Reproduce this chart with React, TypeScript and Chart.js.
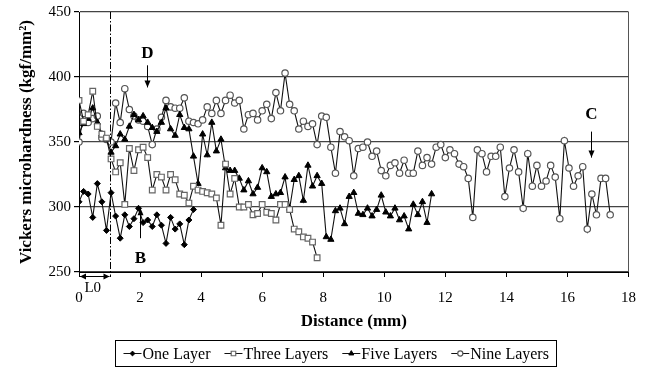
import React, { useEffect, useRef } from 'react';
import { Chart, registerables } from 'chart.js';
import { drawPoint } from 'chart.js/helpers';

Chart.register(...registerables);

const FONT = "'Liberation Serif', 'Times New Roman', serif";

// Distance positions (mm) of the measurement points
const distance = [
  0, 0.15, 0.3, 0.45, 0.6, 0.75, 0.9, 1.05, 1.2, 1.35, 1.5, 1.65, 1.8, 1.95, 2.1, 2.25, 2.4, 2.55, 2.7, 2.85,
  3, 3.15, 3.3, 3.45, 3.6, 3.75, 3.9, 4.05, 4.2, 4.35, 4.5, 4.65, 4.8, 4.95, 5.1, 5.25, 5.4, 5.55, 5.7, 5.85,
  6, 6.15, 6.3, 6.45, 6.6, 6.75, 6.9, 7.05, 7.2, 7.35, 7.5, 7.65, 7.8, 7.95, 8.1, 8.25, 8.4, 8.55, 8.7, 8.85,
  9, 9.15, 9.3, 9.45, 9.6, 9.75, 9.9, 10.05, 10.2, 10.35, 10.5, 10.65, 10.8, 10.95, 11.1, 11.25, 11.4, 11.55, 11.7, 11.85,
  12, 12.15, 12.3, 12.45, 12.6, 12.75, 12.9, 13.05, 13.2, 13.35, 13.5, 13.65, 13.8, 13.95, 14.1, 14.25, 14.4, 14.55, 14.7, 14.85,
  15, 15.15, 15.3, 15.45, 15.6, 15.75, 15.9, 16.05, 16.2, 16.35, 16.5, 16.65, 16.8, 16.95, 17.1, 17.25, 17.4,
];

const oneLayer = [
  304, 312, 310, 292, 318, 304, 282, 311, 293, 276, 294, 285, 291, 299, 288, 290, 285, 294, 286, 272,
  292, 283, 287, 271, 290, 298,
];

const threeLayers = [
  382, 366, 371, 389, 362, 356, 353, 337, 327, 334, 302, 345, 328, 344, 346, 338, 313, 325, 323, 313,
  325, 321, 310, 309, 303, 316, 313, 312, 311, 310, 307, 286, 333, 310, 322, 300, 300, 302, 294, 295,
  302, 296, 295, 290, 302, 302, 298, 283, 281, 277, 276, 273, 261,
];

const fiveLayers = [
  357, 364, 368, 376, 365, 356, 352, 342, 347, 356, 352, 362, 371, 367, 370, 365, 361, 358, 365, 376,
  360, 355, 371, 361, 360, 339, 318, 356, 340, 365, 343, 352, 330, 328, 328, 322, 313, 320, 310, 315,
  330, 327, 308, 310, 311, 323, 299, 321, 324, 305, 332, 316, 324, 318, 277, 275, 297, 299, 287, 308,
  311, 295, 294, 299, 293, 298, 309, 296, 293, 299, 290, 293, 283, 302, 294, 304, 288, 310,
];

const nineLayers = [
  350, 372, 365, 368, 370, 353, 352, 350, 380, 365, 391, 375, 370, 367, 366, 362, 348, 360, 369, 382,
  377, 376, 376, 384, 366, 365, 364, 367, 377, 372, 382, 372, 382, 386, 380, 382, 360, 371, 372, 367,
  374, 379, 368, 388, 374, 403, 379, 374, 360, 366, 362, 364, 348, 370, 369, 346, 326, 358, 354, 351,
  324, 345, 346, 350, 339, 343, 328, 324, 332, 334, 326, 336, 326, 326, 343, 332, 338, 333, 346, 348,
  338, 344, 341, 333, 331, 322, 292, 344, 341, 327, 339, 339, 346, 308, 330, 344, 327, 299, 341, 316,
  332, 316, 320, 332, 323, 291, 351, 330, 316, 324, 331, 283, 310, 294, 322, 322, 294,
];

const seriesNames = ['One Layer', 'Three Layers', 'Five Layers', 'Nine Layers'];
const seriesValues = [oneLayer, threeLayers, fiveLayers, nineLayers];

const xTitle = 'Distance (mm)';
const yTitle = 'Vickers microhardness (kgf/mm²)';
const xMin = 0, xMax = 18, xStep = 2;
const yMin = 250, yMax = 450, yStep = 50;

// L0 boundary (mm)
const L0 = 1.0;
const L0Label = 'L0';

// Point annotations: label, x (mm), label y, arrow start y, arrow end y
const annotationLabels = ['D', 'B', 'C'];
const annotationX = [2.22, 2.0, 16.78];
const annotationTextY = [418, 260, 371];
const annotationFromY = [409, 276, 358];
const annotationToY = [392, 299, 338];

const markerStyles = [
  { pointStyle: 'rectRot', radius: 3, fill: '#000', stroke: '#000', bw: 1 },
  { pointStyle: 'rect', radius: 4, fill: '#fff', stroke: '#666', bw: 1.2 },
  { pointStyle: 'triangle', radius: 3.6, fill: '#000', stroke: '#000', bw: 1 },
  { pointStyle: 'circle', radius: 3.2, fill: '#fff', stroke: '#555', bw: 1.2 },
];

function vArrow(ctx: CanvasRenderingContext2D, x: number, y1: number, y2: number) {
  ctx.beginPath();
  ctx.moveTo(x, y1);
  ctx.lineTo(x, y2);
  ctx.stroke();
  const d = Math.sign(y2 - y1);
  ctx.beginPath();
  ctx.moveTo(x, y2);
  ctx.lineTo(x - 3, y2 - d * 7);
  ctx.lineTo(x + 3, y2 - d * 7);
  ctx.closePath();
  ctx.fill();
}

function hHead(ctx: CanvasRenderingContext2D, x: number, y: number, d: number) {
  ctx.beginPath();
  ctx.moveTo(x, y);
  ctx.lineTo(x - d * 6, y - 3);
  ctx.lineTo(x - d * 6, y + 3);
  ctx.closePath();
  ctx.fill();
}

const overlayPlugin = {
  id: 'overlay',
  afterDatasetsDraw(chart: any) {
    const { ctx, chartArea } = chart;
    const xs = chart.scales.x;
    const ys = chart.scales.y;
    ctx.save();
    ctx.strokeStyle = '#000';
    ctx.fillStyle = '#000';
    ctx.lineWidth = 1;
    // dash-dot L0 line
    const xp = Math.round(xs.getPixelForValue(L0)) + 0.5;
    ctx.setLineDash([7, 2, 1.5, 2]);
    ctx.beginPath();
    ctx.moveTo(xp, chartArea.top);
    ctx.lineTo(xp, chartArea.bottom + 5);
    ctx.stroke();
    ctx.setLineDash([]);
    // L0 double arrow
    const x0 = xs.getPixelForValue(xMin) + 1;
    const ya = chartArea.bottom + 4.5;
    ctx.beginPath();
    ctx.moveTo(x0, ya);
    ctx.lineTo(xp - 1, ya);
    ctx.stroke();
    hHead(ctx, x0, ya, -1);
    hHead(ctx, xp - 1, ya, 1);
    ctx.font = `15px ${FONT}`;
    ctx.textAlign = 'center';
    ctx.textBaseline = 'middle';
    ctx.fillText(L0Label, xs.getPixelForValue(L0 * 0.45), chartArea.bottom + 16);
    // D, B, C annotations
    ctx.font = `bold 17px ${FONT}`;
    annotationLabels.forEach((lab, i) => {
      const px = Math.round(xs.getPixelForValue(annotationX[i])) + 0.5;
      ctx.fillText(lab, px, ys.getPixelForValue(annotationTextY[i]));
      vArrow(ctx, px, ys.getPixelForValue(annotationFromY[i]), ys.getPixelForValue(annotationToY[i]));
    });
    ctx.restore();
  },
};

const legendPlugin = {
  id: 'boxLegend',
  afterDraw(chart: any) {
    const { ctx } = chart;
    ctx.save();
    ctx.font = `16px ${FONT}`;
    const sampleW = 18, gapText = 1, gapItem = 14, padX = 8;
    const widths = seriesNames.map((n) => ctx.measureText(n).width);
    const total = padX * 2 + widths.reduce((a, w) => a + sampleW + gapText + w, 0) + gapItem * (seriesNames.length - 1);
    const cx = 336;
    const top = 340, h = 26;
    const left = Math.round(cx - total / 2) + 0.5;
    ctx.strokeStyle = '#000';
    ctx.lineWidth = 1;
    ctx.strokeRect(left, top + 0.5, Math.round(total), h);
    let x = left + padX;
    const cy = top + h / 2 + 0.5;
    ctx.textBaseline = 'middle';
    ctx.textAlign = 'left';
    seriesNames.forEach((n, i) => {
      const m = markerStyles[i];
      ctx.strokeStyle = '#111';
      ctx.lineWidth = 1;
      ctx.beginPath();
      ctx.moveTo(x, cy);
      ctx.lineTo(x + sampleW, cy);
      ctx.stroke();
      ctx.fillStyle = m.fill;
      ctx.strokeStyle = m.stroke;
      ctx.lineWidth = m.bw;
      drawPoint(ctx, { pointStyle: m.pointStyle as any, rotation: 0, radius: m.radius * 0.8, borderWidth: m.bw }, x + sampleW / 2, cy);
      ctx.fillStyle = '#000';
      ctx.fillText(n, x + sampleW + gapText, cy + 1);
      x += sampleW + gapText + widths[i] + gapItem;
    });
    ctx.restore();
  },
};

export default function App() {
  const ref = useRef<HTMLCanvasElement>(null);
  useEffect(() => {
    const datasets = seriesNames.map((name, i) => {
      const m = markerStyles[i];
      return {
        label: name,
        data: seriesValues[i].map((v, k) => ({ x: distance[k], y: v })),
        borderColor: '#111',
        borderWidth: 1.1,
        backgroundColor: m.fill,
        pointStyle: m.pointStyle as any,
        pointRadius: m.radius,
        pointBackgroundColor: m.fill,
        pointBorderColor: m.stroke,
        pointBorderWidth: m.bw,
        tension: 0,
        fill: false,
      };
    });
    const chart = new Chart(ref.current as HTMLCanvasElement, {
      type: 'line',
      data: { datasets },
      options: {
        animation: false,
        responsive: false,
        devicePixelRatio: 1,
        layout: { padding: { left: 0, right: 19, top: 10, bottom: 0 } },
        plugins: { legend: { display: false }, tooltip: { enabled: false } },
        scales: {
          x: {
            type: 'linear',
            min: xMin,
            max: xMax,
            afterFit: (s: any) => { s.height = 100; },
            ticks: { stepSize: xStep, color: '#000', font: { size: 15, family: FONT }, padding: 12, maxRotation: 0 },
            grid: {
              color: (c: any) => (c.tick && c.tick.value === xMax ? '#555' : 'rgba(0,0,0,0)'),
              tickColor: '#000',
              tickLength: 5,
              lineWidth: 1,
            },
            border: { display: true, color: '#000', width: 1 },
            title: { display: true, text: xTitle, color: '#000', font: { size: 17, weight: 'bold', family: FONT }, padding: { top: 0, bottom: 40 } },
          },
          y: {
            min: yMin,
            max: yMax,
            afterFit: (s: any) => { s.width = 79; },
            ticks: { stepSize: yStep, color: '#000', font: { size: 15, family: FONT }, padding: 3 },
            grid: { color: '#444', tickColor: '#000', tickLength: 5, lineWidth: 1.2 },
            border: { display: true, color: '#000', width: 1 },
            title: { display: true, text: yTitle, color: '#000', font: { size: 17, weight: 'bold', family: FONT }, padding: { top: 16, bottom: 0 } },
          },
        },
      } as any,
      plugins: [overlayPlugin, legendPlugin],
    });
    return () => chart.destroy();
  }, []);
  return (
    <div style={{ position: 'absolute', left: 0, top: 0, width: 648, height: 372, background: '#fff' }}>
      <canvas ref={ref} width={648} height={372} style={{ display: 'block' }} />
    </div>
  );
}
